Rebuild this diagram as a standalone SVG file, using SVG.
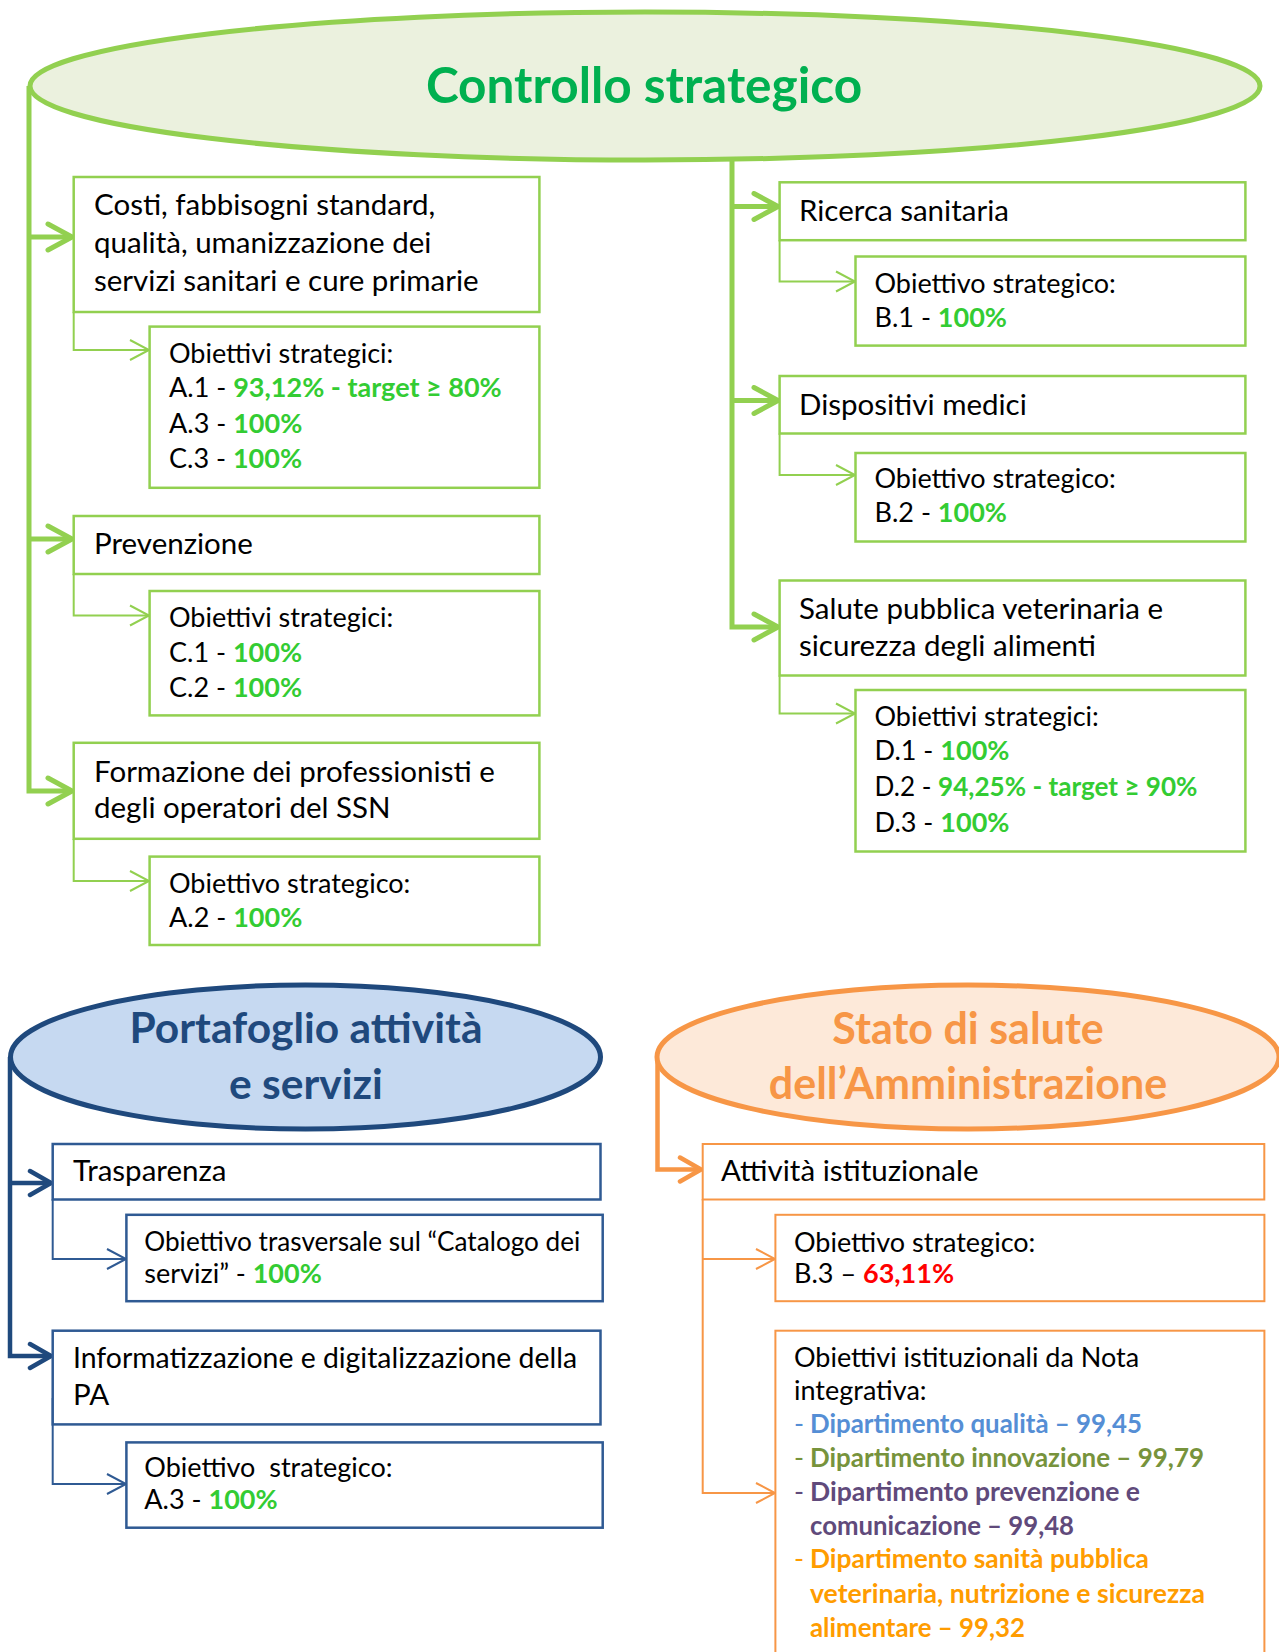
<svg xmlns="http://www.w3.org/2000/svg" width="1279" height="1652" viewBox="0 0 1279 1652">
<style>
text{font-family:Lato,"Liberation Sans",sans-serif;fill:#000}
.m{font-size:29.5px}
.s{font-size:27px}
.b{font-weight:bold}
.ok{font-weight:bold;fill:#33CC33}
.gbox{fill:#fff;stroke:#92D050;stroke-width:2.5}
.bbox{fill:#fff;stroke:#2F5A93;stroke-width:2.5}
.obox{fill:#fff;stroke:#F79646;stroke-width:2}
.gthick{fill:none;stroke:#92D050;stroke-width:5}
.gthin{fill:none;stroke:#92D050;stroke-width:2}
.bthick{fill:none;stroke:#1F497D;stroke-width:4.5}
.bthin{fill:none;stroke:#2F5A93;stroke-width:2}
.othick{fill:none;stroke:#F79646;stroke-width:4.5}
.othin{fill:none;stroke:#F79646;stroke-width:2}
.title{font-weight:bold;text-anchor:middle}
.q{fill:#558ED5}
.n{fill:#77933C}
.pv{fill:#604A7B}
.sp{fill:#FF9C00}
</style>
<defs>
<marker id="ag" markerUnits="userSpaceOnUse" viewBox="0 0 32 32" refX="29" refY="16" markerWidth="32" markerHeight="32" orient="auto"><path d="M5,3 L29,16 L5,29" fill="none" stroke="#92D050" stroke-width="5" stroke-linecap="round" stroke-linejoin="round"/></marker>
<marker id="agt" markerUnits="userSpaceOnUse" viewBox="0 0 24 24" refX="21" refY="12" markerWidth="24" markerHeight="24" orient="auto"><path d="M2,2 L21,12 L2,22" fill="none" stroke="#92D050" stroke-width="2"/></marker>
<marker id="ab" markerUnits="userSpaceOnUse" viewBox="0 0 32 32" refX="29" refY="16" markerWidth="32" markerHeight="32" orient="auto"><path d="M8,4 L29,16 L8,28" fill="none" stroke="#1F497D" stroke-width="4.5" stroke-linecap="round" stroke-linejoin="round"/></marker>
<marker id="abt" markerUnits="userSpaceOnUse" viewBox="0 0 24 24" refX="21" refY="12" markerWidth="24" markerHeight="24" orient="auto"><path d="M2,2 L21,12 L2,22" fill="none" stroke="#2F5A93" stroke-width="2"/></marker>
<marker id="ao" markerUnits="userSpaceOnUse" viewBox="0 0 32 32" refX="29" refY="16" markerWidth="32" markerHeight="32" orient="auto"><path d="M8,4 L29,16 L8,28" fill="none" stroke="#F79646" stroke-width="4.5" stroke-linecap="round" stroke-linejoin="round"/></marker>
<marker id="aot" markerUnits="userSpaceOnUse" viewBox="0 0 24 24" refX="21" refY="12" markerWidth="24" markerHeight="24" orient="auto"><path d="M2,2 L21,12 L2,22" fill="none" stroke="#F79646" stroke-width="2"/></marker>
</defs>
<rect width="1279" height="1652" fill="#fff"/>

<g id="connectors">
<path class="gthick" d="M29,86 V791 H72" marker-end="url(#ag)"/>
<path class="gthick" d="M29,237 H72" marker-end="url(#ag)"/>
<path class="gthick" d="M29,539 H72" marker-end="url(#ag)"/>
<path class="gthick" d="M732,160 V627 H778" marker-end="url(#ag)"/>
<path class="gthick" d="M732,206.5 H778" marker-end="url(#ag)"/>
<path class="gthick" d="M732,400.5 H778" marker-end="url(#ag)"/>
<path class="gthin" d="M73.7,312 V350 H149" marker-end="url(#agt)"/>
<path class="gthin" d="M73.7,574 V615.5 H149" marker-end="url(#agt)"/>
<path class="gthin" d="M73.7,839 V881 H149" marker-end="url(#agt)"/>
<path class="gthin" d="M779.6,240 V281.5 H855" marker-end="url(#agt)"/>
<path class="gthin" d="M779.6,433.5 V475 H855" marker-end="url(#agt)"/>
<path class="gthin" d="M779.6,675.5 V713.5 H855" marker-end="url(#agt)"/>
<path class="bthick" d="M10,1057 V1356 H51" marker-end="url(#ab)"/>
<path class="bthick" d="M10,1183 H51" marker-end="url(#ab)"/>
<path class="bthin" d="M52.7,1199 V1259 H126" marker-end="url(#abt)"/>
<path class="bthin" d="M52.7,1398 V1484 H126" marker-end="url(#abt)"/>
<path class="othick" d="M657.5,1057 V1169.5 H701" marker-end="url(#ao)"/>
<path class="othin" d="M702.7,1199 V1493 H775" marker-end="url(#aot)"/>
<path class="othin" d="M702.7,1259 H775" marker-end="url(#aot)"/>
</g>

<g id="controllo-strategico">
<ellipse cx="645" cy="86" rx="615" ry="74" fill="#EBF1DE" stroke="#92D050" stroke-width="5"/>
<text class="title" x="644" y="103" font-size="49.5" style="fill:#00B050">Controllo strategico</text>
</g>

<g id="costi">
<rect class="gbox" x="73.7" y="177" width="465.7" height="135"/>
<text class="m" x="94" y="215">Costi, fabbisogni standard,</text>
<text class="m" x="94" y="252.7">qualità, umanizzazione dei</text>
<text class="m" x="94" y="290.7">servizi sanitari e cure primarie</text>
</g>
<g id="costi-obiettivi">
<rect class="gbox" x="149.6" y="326.6" width="389.8" height="161.2"/>
<text class="s" x="169" y="362.7">Obiettivi strategici:</text>
<text class="s" x="169" y="396.7">A.1 - <tspan class="ok">93,12%  - target ≥ 80%</tspan></text>
<text class="s" x="169" y="432.7">A.3 - <tspan class="ok">100%</tspan></text>
<text class="s" x="169" y="468">C.3 - <tspan class="ok">100%</tspan></text>
</g>

<g id="prevenzione">
<rect class="gbox" x="73.7" y="516" width="465.7" height="58"/>
<text class="m" x="94" y="554">Prevenzione</text>
</g>
<g id="prevenzione-obiettivi">
<rect class="gbox" x="149.6" y="591" width="389.8" height="124.4"/>
<text class="s" x="169" y="627.3">Obiettivi strategici:</text>
<text class="s" x="169" y="661.7">C.1 - <tspan class="ok">100%</tspan></text>
<text class="s" x="169" y="696.7">C.2 - <tspan class="ok">100%</tspan></text>
</g>

<g id="formazione">
<rect class="gbox" x="73.7" y="742.8" width="465.7" height="96"/>
<text class="m" x="94" y="781.7">Formazione dei professionisti e</text>
<text class="m" x="94" y="818.3">degli operatori del SSN</text>
</g>
<g id="formazione-obiettivo">
<rect class="gbox" x="149.6" y="856.6" width="389.8" height="88.4"/>
<text class="s" x="169" y="893.3">Obiettivo strategico:</text>
<text class="s" x="169" y="926.7">A.2 - <tspan class="ok">100%</tspan></text>
</g>

<g id="ricerca">
<rect class="gbox" x="779.6" y="182.3" width="465.8" height="57.9"/>
<text class="m" x="799" y="221">Ricerca sanitaria</text>
</g>
<g id="ricerca-obiettivo">
<rect class="gbox" x="855.5" y="256.5" width="389.9" height="89.1"/>
<text class="s" x="874.5" y="293.3">Obiettivo strategico:</text>
<text class="s" x="874.5" y="326.7">B.1 - <tspan class="ok">100%</tspan></text>
</g>

<g id="dispositivi">
<rect class="gbox" x="779.6" y="376" width="465.8" height="57.5"/>
<text class="m" x="799" y="415">Dispositivi medici</text>
</g>
<g id="dispositivi-obiettivo">
<rect class="gbox" x="855.5" y="453" width="389.9" height="88.5"/>
<text class="s" x="874.5" y="488.3">Obiettivo strategico:</text>
<text class="s" x="874.5" y="521.7">B.2 - <tspan class="ok">100%</tspan></text>
</g>

<g id="salute-veterinaria">
<rect class="gbox" x="779.6" y="580.5" width="465.8" height="95"/>
<text class="m" x="799" y="619.3">Salute pubblica veterinaria e</text>
<text class="m" x="799" y="656">sicurezza degli alimenti</text>
</g>
<g id="salute-veterinaria-obiettivi">
<rect class="gbox" x="855.5" y="690" width="389.9" height="161.5"/>
<text class="s" x="874.5" y="726">Obiettivi strategici:</text>
<text class="s" x="874.5" y="760">D.1 - <tspan class="ok">100%</tspan></text>
<text class="s" x="874.5" y="796" textLength="323" lengthAdjust="spacingAndGlyphs">D.2 - <tspan class="ok">94,25%  - target ≥ 90%</tspan></text>
<text class="s" x="874.5" y="831.7">D.3 - <tspan class="ok">100%</tspan></text>
</g>

<g id="portafoglio">
<ellipse cx="305.5" cy="1057" rx="295" ry="72" fill="#C6D9F1" stroke="#1F497D" stroke-width="5"/>
<text class="title" x="306" y="1043" font-size="42.5" style="fill:#1F497D">Portafoglio attività</text>
<text class="title" x="306" y="1098.5" font-size="42.5" style="fill:#1F497D">e servizi</text>
</g>

<g id="trasparenza">
<rect class="bbox" x="52.7" y="1144" width="547.8" height="55.5"/>
<text class="m" x="73" y="1180.7">Trasparenza</text>
</g>
<g id="trasparenza-obiettivo">
<rect class="bbox" x="126.4" y="1214.8" width="476.3" height="86.4"/>
<text class="s" x="144.3" y="1251" textLength="436" lengthAdjust="spacingAndGlyphs">Obiettivo trasversale sul “Catalogo dei</text>
<text class="s" x="144.3" y="1282.7">servizi” - <tspan class="ok">100%</tspan></text>
</g>

<g id="informatizzazione">
<rect class="bbox" x="52.7" y="1330.7" width="547.8" height="93.7"/>
<text class="m" x="73" y="1368.3" textLength="504" lengthAdjust="spacingAndGlyphs">Informatizzazione e digitalizzazione della</text>
<text class="m" x="73" y="1405">PA</text>
</g>
<g id="informatizzazione-obiettivo">
<rect class="bbox" x="126.4" y="1442.4" width="476.3" height="85.3"/>
<text class="s" x="144.3" y="1476.7" xml:space="preserve">Obiettivo  strategico:</text>
<text class="s" x="144.3" y="1509.3">A.3 - <tspan class="ok">100%</tspan></text>
</g>

<g id="stato-salute">
<ellipse cx="968" cy="1057" rx="311" ry="72" fill="#FDE9D9" stroke="#F79646" stroke-width="5"/>
<text class="title" x="968" y="1043.5" font-size="43" style="fill:#F79646">Stato di salute</text>
<text class="title" x="968" y="1098.5" font-size="43" style="fill:#F79646">dell’Amministrazione</text>
</g>

<g id="attivita-istituzionale">
<rect class="obox" x="702.7" y="1144" width="561.6" height="55.5"/>
<text class="m" x="721" y="1180.7">Attività istituzionale</text>
</g>
<g id="attivita-obiettivo">
<rect class="obox" x="775.4" y="1214.8" width="489" height="86.4"/>
<text class="s" x="794" y="1251.7">Obiettivo strategico:</text>
<text class="s" x="794" y="1283.3">B.3 – <tspan class="b" style="fill:#FF0000">63,11%</tspan></text>
</g>
<g id="attivita-nota-integrativa">
<rect class="obox" x="775.4" y="1330.7" width="489" height="340"/>
<text class="s" x="794" y="1366.7">Obiettivi istituzionali da Nota</text>
<text class="s" x="794" y="1400">integrativa:</text>
<text class="s q" x="794" y="1433.3">-</text>
<text class="s b q" x="810" y="1433.3" textLength="332" lengthAdjust="spacingAndGlyphs">Dipartimento qualità – 99,45</text>
<text class="s n" x="794" y="1467.3">-</text>
<text class="s b n" x="810" y="1467.3" textLength="394" lengthAdjust="spacingAndGlyphs">Dipartimento innovazione – 99,79</text>
<text class="s pv" x="794" y="1501">-</text>
<text class="s b pv" x="810" y="1501" textLength="330" lengthAdjust="spacingAndGlyphs">Dipartimento prevenzione e</text>
<text class="s b pv" x="810" y="1535" textLength="264" lengthAdjust="spacingAndGlyphs">comunicazione – 99,48</text>
<text class="s sp" x="794" y="1568.3">-</text>
<text class="s b sp" x="810" y="1568.3" textLength="339" lengthAdjust="spacingAndGlyphs">Dipartimento sanità pubblica</text>
<text class="s b sp" x="810" y="1602.7" textLength="395" lengthAdjust="spacingAndGlyphs">veterinaria, nutrizione e sicurezza</text>
<text class="s b sp" x="810" y="1636.7" textLength="215" lengthAdjust="spacingAndGlyphs">alimentare – 99,32</text>
</g>
</svg>
